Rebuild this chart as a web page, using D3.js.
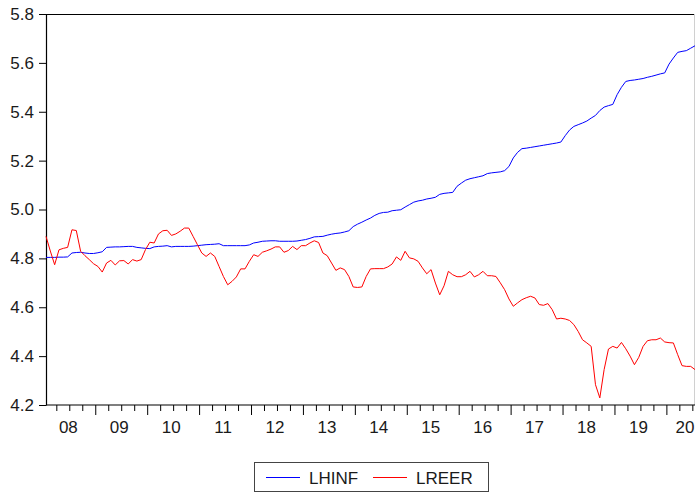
<!DOCTYPE html>
<html>
<head>
<meta charset="utf-8">
<script src="https://cdn.jsdelivr.net/npm/d3@7/dist/d3.min.js"></script>
<style>
  html, body { margin: 0; padding: 0; background: #fff; }
  svg { display: block; font-family: "Liberation Sans", Arial, sans-serif; }
</style>
</head>
<body>
<svg id="chart" width="696" height="492"></svg>
<script>
// Monthly observations, 2008M01 .. 2020M07
const startYear = 2008;
const startMonth = 1;

const lhinf = [
  4.804, 4.804, 4.804, 4.805, 4.805, 4.806, 4.822, 4.824, 4.825, 4.822, 4.820, 4.820,
  4.823, 4.827, 4.845, 4.846, 4.847, 4.847, 4.848, 4.849, 4.849, 4.845, 4.843, 4.841,
  4.840, 4.847, 4.849, 4.850, 4.852, 4.847, 4.849, 4.849, 4.849, 4.849, 4.850, 4.852,
  4.854, 4.856, 4.857, 4.858, 4.860, 4.852, 4.852, 4.852, 4.852, 4.852, 4.852, 4.855,
  4.863, 4.866, 4.870, 4.871, 4.872, 4.872, 4.870, 4.870, 4.870, 4.870, 4.871, 4.874,
  4.877, 4.882, 4.888, 4.889, 4.890, 4.895, 4.899, 4.902, 4.904, 4.908, 4.913, 4.930,
  4.940, 4.948, 4.957, 4.965, 4.976, 4.984, 4.988, 4.989, 4.995, 4.997, 4.999, 5.010,
  5.020, 5.030, 5.035, 5.038, 5.043, 5.046, 5.050, 5.062, 5.066, 5.068, 5.070, 5.095,
  5.108, 5.120, 5.126, 5.130, 5.134, 5.138, 5.147, 5.150, 5.152, 5.154, 5.159, 5.176,
  5.211, 5.234, 5.249, 5.251, 5.254, 5.257, 5.260, 5.263, 5.266, 5.269, 5.272, 5.276,
  5.302, 5.325, 5.340, 5.347, 5.354, 5.362, 5.374, 5.385, 5.405, 5.419, 5.425, 5.430,
  5.470, 5.500, 5.524, 5.528, 5.530, 5.533, 5.536, 5.541, 5.545, 5.550, 5.555, 5.559,
  5.595, 5.620, 5.643, 5.647, 5.650, 5.660, 5.670
];

const lreer = [
  4.890, 4.830, 4.774, 4.835, 4.841, 4.845, 4.917, 4.914, 4.829, 4.811, 4.795, 4.778,
  4.767, 4.744, 4.781, 4.792, 4.773, 4.790, 4.791, 4.777, 4.795, 4.789, 4.795, 4.836,
  4.866, 4.863, 4.900, 4.913, 4.915, 4.894, 4.900, 4.911, 4.924, 4.924, 4.890, 4.856,
  4.822, 4.808, 4.822, 4.808, 4.767, 4.726, 4.692, 4.706, 4.724, 4.757, 4.757, 4.788,
  4.815, 4.808, 4.825, 4.831, 4.838, 4.847, 4.847, 4.825, 4.832, 4.849, 4.836, 4.852,
  4.852, 4.863, 4.872, 4.865, 4.822, 4.811, 4.781, 4.751, 4.761, 4.754, 4.726, 4.683,
  4.681, 4.683, 4.726, 4.757, 4.758, 4.758, 4.758, 4.765, 4.777, 4.806, 4.792, 4.829,
  4.802, 4.798, 4.788, 4.761, 4.737, 4.754, 4.699, 4.651, 4.688, 4.747, 4.733, 4.725,
  4.725, 4.733, 4.747, 4.724, 4.733, 4.747, 4.729, 4.729, 4.726, 4.700, 4.672, 4.634,
  4.604, 4.618, 4.631, 4.639, 4.645, 4.638, 4.611, 4.608, 4.615, 4.590, 4.552, 4.555,
  4.552, 4.546, 4.529, 4.501, 4.467, 4.454, 4.440, 4.283, 4.229, 4.345, 4.429, 4.440,
  4.433, 4.456, 4.430, 4.400, 4.365, 4.395, 4.440, 4.463, 4.467, 4.467, 4.474, 4.458,
  4.455, 4.454, 4.406, 4.361, 4.358, 4.358, 4.345
];

const yTicks = [4.2, 4.4, 4.6, 4.8, 5.0, 5.2, 5.4, 5.6, 5.8];
const yearLabels = ["08", "09", "10", "11", "12", "13", "14", "15", "16", "17", "18", "19", "20"];

const seriesNames = ["LHINF", "LREER"];
const seriesColors = ["#0000ff", "#ff0000"];

// Layout
const W = 696, H = 492;
const m = { left: 46, right: 1, top: 14, bottom: 87 };
const plotW = W - m.left - m.right;
const plotH = H - m.top - m.bottom;

const svg = d3.select("#chart");
const g = svg.append("g").attr("transform", `translate(${m.left},${m.top})`);

// Observation i sits at the centre of its month
const dateOf = i => startYear + (startMonth - 1 + i + 0.5) / 12;
const n = lhinf.length;
const x = d3.scaleLinear()
  .domain([dateOf(0), dateOf(n - 1)])
  .range([0, plotW]);
const y = d3.scaleLinear().domain([4.2, 5.8]).range([plotH, 0]);

const textColor = "#1a1a1a";
const fontSize = 17;

// Frame: top and left in black, right edge in light grey
g.append("line").attr("x1", 0).attr("x2", plotW).attr("y1", 0.5).attr("y2", 0.5)
  .attr("stroke", "#000").attr("stroke-width", 1.2);
g.append("line").attr("x1", plotW - 0.5).attr("x2", plotW - 0.5).attr("y1", 0).attr("y2", plotH)
  .attr("stroke", "#d0d0d0").attr("stroke-width", 1);

// Y axis
const yAxis = d3.axisLeft(y).tickValues(yTicks).tickFormat(d3.format(".1f"))
  .tickSize(7).tickSizeOuter(0).tickPadding(5);
const yg = g.append("g").call(yAxis);
yg.select(".domain").attr("stroke", "#000").attr("stroke-width", 1.2);
yg.selectAll(".tick line").attr("stroke", "#000");
yg.selectAll(".tick text").attr("fill", textColor)
  .style("font-size", fontSize + "px").style("font-family", '"Liberation Sans", Arial, sans-serif');

// X axis: quarterly minor ticks, yearly major ticks
const t0 = x.domain()[0], t1 = x.domain()[1];
const quarterTicks = d3.range(Math.ceil(t0 * 4), Math.floor(t1 * 4) + 1).map(q => q / 4)
  .filter(t => Math.abs(t - Math.round(t)) > 1e-9);
const yearTicks = d3.range(Math.ceil(t0), Math.floor(t1) + 1);

const xg = g.append("g").attr("transform", `translate(0,${plotH})`);
xg.append("line").attr("x1", 0).attr("x2", plotW).attr("y1", 0).attr("y2", 0)
  .attr("stroke", "#000").attr("stroke-width", 1.2);
xg.selectAll("line.minor").data(quarterTicks).join("line").attr("class", "minor")
  .attr("x1", d => x(d)).attr("x2", d => x(d)).attr("y1", 0).attr("y2", 6)
  .attr("stroke", "#000");
xg.selectAll("line.major").data(yearTicks).join("line").attr("class", "major")
  .attr("x1", d => x(d)).attr("x2", d => x(d)).attr("y1", 0).attr("y2", 10)
  .attr("stroke", "#000");

// Year labels centred in each year's visible span
xg.selectAll("text.year").data(yearLabels).join("text").attr("class", "year")
  .attr("x", (d, i) => {
    const yr = startYear + i;
    const a = x(Math.max(yr, t0)), b = x(Math.min(yr + 1, t1));
    let cx = (yr + 1 > t1) ? x(yr + 0.5) - 2.5 : (a + b) / 2 - 2.5;
    return Math.min(cx, plotW - 10);
  })
  .attr("y", 28)
  .attr("text-anchor", "middle")
  .attr("fill", textColor)
  .style("font-size", fontSize + "px")
  .text(d => d);

// Series lines
const line = d3.line().x((d, i) => x(dateOf(i))).y(d => y(d));
[lhinf, lreer].forEach((vals, k) => {
  g.append("path").datum(vals)
    .attr("fill", "none")
    .attr("stroke", seriesColors[k])
    .attr("stroke-width", 1)
    .attr("stroke-linejoin", "round")
    .attr("d", line);
});

// Legend
const lg = svg.append("g").attr("transform", "translate(254,462)");
lg.append("rect").attr("x", 0.5).attr("y", 0.5).attr("width", 234).attr("height", 29)
  .attr("fill", "#fff").attr("stroke", "#444").attr("stroke-width", 1);
const items = [
  { name: seriesNames[0], color: seriesColors[0], x0: 12 },
  { name: seriesNames[1], color: seriesColors[1], x0: 119 }
];
items.forEach(it => {
  lg.append("line").attr("x1", it.x0).attr("x2", it.x0 + 34).attr("y1", 15.5).attr("y2", 15.5)
    .attr("stroke", it.color).attr("stroke-width", 1);
  lg.append("text").attr("x", it.x0 + 43).attr("y", 21.5)
    .attr("fill", textColor).style("font-size", fontSize + "px").text(it.name);
});
</script>
</body>
</html>
